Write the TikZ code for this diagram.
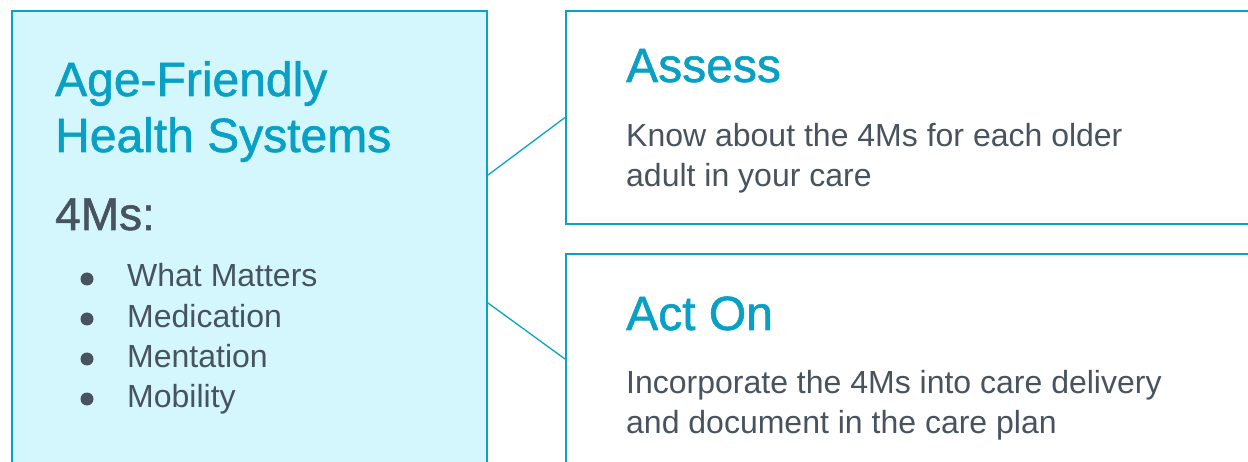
\documentclass[tikz,border=0pt]{standalone}
\usepackage{fontspec}
\setmainfont{Liberation Sans}
\newfontfamily\afmedium[FakeBold=1.2]{Liberation Sans}
\usepackage{tikz}
\usetikzlibrary{
  positioning,
  calc
}

\definecolor{afteal}{RGB}{8,160,196}
\definecolor{afline}{RGB}{10,163,196}
\definecolor{afink}{RGB}{71,83,94}
\definecolor{afpale}{RGB}{212,247,253}

\begin{document}
\begin{tikzpicture}[x=1pt,y=-1pt,
    panel/.style={draw=afline,line width=2pt,anchor=north west,inner sep=0pt},
    link/.style={draw=afline,line width=1.3pt},
    heading/.style={anchor=base west,inner sep=0pt,text=afteal,font=\afmedium\fontsize{48}{56}\selectfont},
    body/.style={anchor=base west,inner sep=0pt,text=afink,font=\fontsize{32}{40}\selectfont}
  ]
      \useasboundingbox (0,0) rectangle (1248,462);
      \clip (0,0) rectangle (1248,462);

      \node[panel,fill=afpale,minimum width=475pt,minimum height=456pt] (4ms) at (11,10) {};
      \node[panel,minimum width=700pt,minimum height=213pt] (assess) at (565,10) {};
      \node[panel,minimum width=700pt,minimum height=210pt] (acton) at (565,253) {};

      \draw[link] ([yshift=64pt]4ms.east) -- (assess.west);
      \draw[link] ([yshift=-64pt]4ms.east) -- (acton.west);

      \node[heading] (afhs1) at (55,96) {Age-Friendly};
      \node[heading] (afhs2) at (55,152) {Health Systems};
      \node[heading,text=afink,font=\afmedium\fontsize{46}{54}\selectfont] (4mslabel) at (55,230) {4Ms:};

      \foreach \mname [count=\i] in {What Matters,Medication,Mentation,Mobility}{
        \node[body] (m\i) at (127,247+40*\i) {\mname};
        \fill[afink] (87,239+40*\i) circle (6.5pt);
      }

      \node[heading] (assesstitle) at (626,82) {Assess};
      \node[body] (assess1) at (626,147) {Know about the 4Ms for each older};
      \node[body] (assess2) at (626,187) {adult in your care};

      \node[heading] (actontitle) at (626,330) {Act On};
      \node[body] (acton1) at (626,393) {Incorporate the 4Ms into care delivery};
      \node[body] (acton2) at (626,433) {and document in the care plan};
    \end{tikzpicture}
\end{document}
